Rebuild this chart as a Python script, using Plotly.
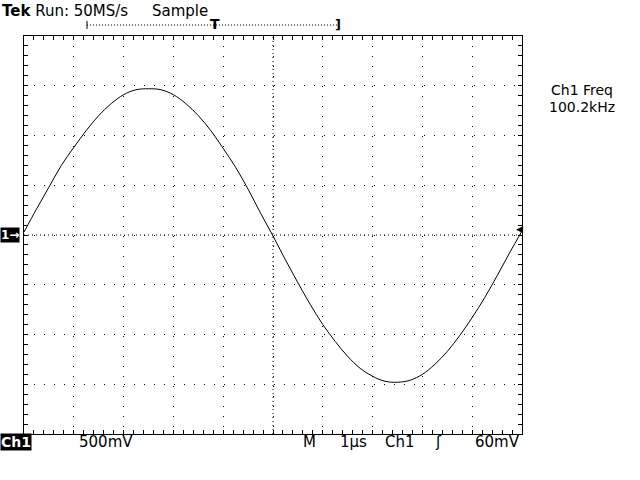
import plotly.graph_objects as go

# waveform: time (us) and voltage (V)
time_us = [i * 0.25 for i in range(41)]
volts = [0.03, 0.26, 0.48, 0.70, 0.88, 1.05, 1.20, 1.32, 1.41, 1.46, 1.47,
         1.46, 1.41, 1.32, 1.20, 1.05, 0.87, 0.68, 0.46, 0.22, -0.01,
         -0.25, -0.48, -0.70, -0.90, -1.07, -1.22, -1.34, -1.42, -1.47, -1.48,
         -1.46, -1.40, -1.30, -1.17, -1.01, -0.83, -0.63, -0.41, -0.18, 0.04]

header_text = 'Run: 50MS/s     Sample'
freq_label = 'Ch1 Freq'
freq_value = '100.2kHz'
scale_label = '500mV'
time_label = '1µs'
trig_label = '60mV'

# plot box in page pixels
L, R, T, B = 24, 522, 36, 434
def px(x): return (x - L) / (R - L)
def py(y): return (B - y) / (B - T)

font = dict(family='DejaVu Sans', size=15, color='black')

fig = go.Figure()
fig.add_trace(go.Scatter(x=time_us, y=volts, mode='lines', line=dict(color='black', width=1, shape='spline'),
                         showlegend=False, hoverinfo='skip'))

axis = dict(showline=True, linecolor='black', linewidth=1, mirror='ticks', zeroline=False,
            showgrid=True, gridcolor='black', gridwidth=1, griddash='1px,9px',
            showticklabels=False, ticks='inside', ticklen=4, tickcolor='black', fixedrange=True)
fig.update_xaxes(range=[0, 10], dtick=1, minor=dict(dtick=0.2, ticks='inside', ticklen=4, tickcolor='black'), **axis)
fig.update_yaxes(range=[-2, 2], dtick=0.5, minor=dict(dtick=0.1, ticks='inside', ticklen=4, tickcolor='black'), **axis)

# centre cross lines with finer dots
fig.add_shape(type='line', x0=0, x1=10, y0=0, y1=0, line=dict(color='black', width=1, dash='1px,3px'))
fig.add_shape(type='line', x0=5, x1=5, y0=-2, y1=2, line=dict(color='black', width=1, dash='1px,3px'))

ann = []
def text(x, y, s, anchor='left', **kw):
    ann.append(dict(x=px(x), y=py(y), xref='paper', yref='paper', text=s, showarrow=False,
                    xanchor=anchor, yanchor='middle', font=kw.pop('font', font), **kw))

text(0, 11, '<b>Tek</b> ' + header_text)
text(582, 90, freq_label, anchor='center', font=dict(family='DejaVu Sans', size=14, color='black'))
text(582, 107, freq_value, anchor='center', font=dict(family='DejaVu Sans', size=14, color='black'))
text(0, 442, '<b>Ch1</b>', font=dict(family='DejaVu Sans', size=14, color='white'), bgcolor='black', borderpad=0)
text(77, 442, scale_label)
text(301, 442, 'M')
text(338, 442, time_label)
text(383, 442, 'Ch1')
text(433, 442, 'ʃ')
text(522, 442, trig_label, anchor='right')
text(0, 235, '<b>1→</b>', font=dict(family='DejaVu Sans', size=12, color='white'), bgcolor='black', borderpad=0)
text(514, 229, '◀', font=dict(family='DejaVu Sans', size=9, color='black'))
text(208, 24, '<b>T</b>', font=dict(family='DejaVu Sans', size=14, color='black'))
text(333, 24, '<b>]</b>', font=dict(family='DejaVu Sans', size=13, color='black'))
fig.update_layout(annotations=ann)

# record-length bracket
fig.add_shape(type='line', xref='paper', yref='paper', x0=px(87), x1=px(337), y0=py(25), y1=py(25),
              line=dict(color='black', width=1, dash='1px,2px'))
fig.add_shape(type='line', xref='paper', yref='paper', x0=px(87), x1=px(87), y0=py(21), y1=py(29),
              line=dict(color='black', width=1))

fig.update_layout(width=640, height=480,
                  margin=dict(l=L, r=640 - R, t=T, b=480 - B),
                  paper_bgcolor='white', plot_bgcolor='white')
fig.write_html('out.html', config={'displayModeBar': False},
               post_script="document.body.style.margin='0';")
